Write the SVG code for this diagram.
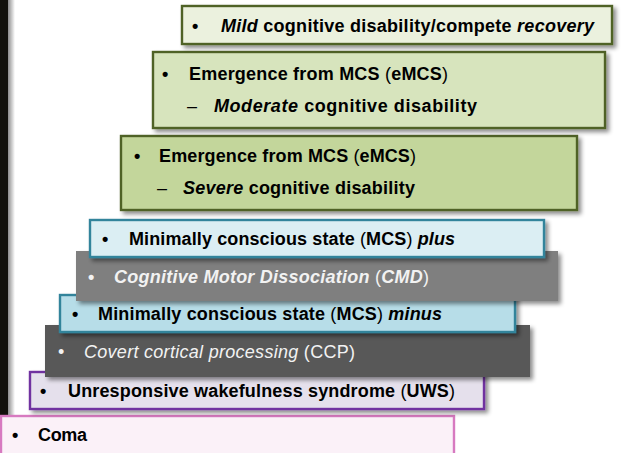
<svg xmlns="http://www.w3.org/2000/svg" width="627" height="453" viewBox="0 0 627 453">
<defs>
<filter id="sh" x="-5%" y="-20%" width="115%" height="160%">
<feDropShadow dx="3" dy="3" stdDeviation="2" flood-color="#000" flood-opacity="0.45"/>
</filter>
<linearGradient id="barsh" x1="0" x2="1" y1="0" y2="0">
<stop offset="0" stop-color="#000" stop-opacity="0.45"/>
<stop offset="1" stop-color="#000" stop-opacity="0"/>
</linearGradient>
</defs>
<style>
text{font-family:"Liberation Sans",Arial,sans-serif;font-size:18px;font-weight:bold;fill:#000}
.b{stroke-width:2.4}
.n{font-weight:normal}
.i{font-style:italic}
.w{fill:#f2f2f2}
</style>
<rect x="0" y="0" width="8" height="416" fill="#12110c"/>
<rect x="8" y="0" width="7" height="416" fill="url(#barsh)"/>
<g id="coma">
<rect x="1" y="416" width="453" height="40" fill="#fbf1f8" stroke="#d77ac0" class="b"/>
<text x="12" y="441">•</text>
<text x="38" y="441" textLength="49">Coma</text>
</g>
<g id="uws">
<rect x="30" y="372" width="454" height="37" fill="#e5e0ec" stroke="#7030a0" class="b" filter="url(#sh)"/>
<text x="40" y="397">•</text>
<text x="68" y="397" textLength="387">Unresponsive wakefulness syndrome <tspan class="n">(</tspan>UWS<tspan class="n">)</tspan></text>
</g>
<g id="ccp">
<rect x="45" y="325" width="485" height="52" fill="#595959" filter="url(#sh)"/>
<text x="58" y="358" class="w n">•</text>
<text x="84" y="358" class="w n" textLength="271"><tspan class="i">Covert cortical processing</tspan> (CCP)</text>
</g>
<g id="mcsminus">
<rect x="60" y="295" width="455" height="37" fill="#b7dde8" stroke="#31849b" class="b" filter="url(#sh)"/>
<text x="72" y="320">•</text>
<text x="98" y="320" textLength="344">Minimally conscious state <tspan class="n">(</tspan>MCS<tspan class="n">)</tspan> <tspan class="i">minus</tspan></text>
</g>
<g id="cmd">
<rect x="76" y="251" width="482" height="50" fill="#7f7f7f" filter="url(#sh)"/>
<text x="88" y="283" class="w">•</text>
<text x="114" y="283" class="w i" textLength="315">Cognitive Motor Dissociation <tspan class="n" font-style="normal">(</tspan>CMD<tspan class="n" font-style="normal">)</tspan></text>
</g>
<g id="mcsplus">
<rect x="90" y="220" width="454" height="37" fill="#dbeef3" stroke="#31849b" class="b" filter="url(#sh)"/>
<text x="102" y="245">•</text>
<text x="129" y="245" textLength="326">Minimally conscious state <tspan class="n">(</tspan>MCS<tspan class="n">)</tspan> <tspan class="i">plus</tspan></text>
</g>
<g id="severe">
<rect x="121" y="136" width="456" height="74" fill="#c3d69b" stroke="#4f6228" class="b" filter="url(#sh)"/>
<text x="134" y="162">•</text>
<text x="159" y="162" textLength="257">Emergence from MCS <tspan class="n">(</tspan>eMCS<tspan class="n">)</tspan></text>
<text x="157" y="194" class="n">–</text>
<text x="183" y="194" textLength="232"><tspan class="i">Severe</tspan> cognitive disability</text>
</g>
<g id="moderate">
<rect x="153" y="52" width="452" height="76" fill="#d7e4bd" stroke="#4f6228" class="b" filter="url(#sh)"/>
<text x="162" y="80">•</text>
<text x="189" y="80" textLength="259">Emergence from MCS <tspan class="n">(</tspan>eMCS<tspan class="n">)</tspan></text>
<text x="187" y="112" class="n">–</text>
<text x="214" y="112" textLength="263"><tspan class="i">Moderate</tspan> cognitive disability</text>
</g>
<g id="mild">
<rect x="182" y="6" width="430" height="38" fill="#ebf1de" stroke="#4f6228" class="b" filter="url(#sh)"/>
<text x="192" y="32">•</text>
<text x="221" y="32" textLength="373"><tspan class="i">Mild</tspan> cognitive disability/compete <tspan class="i">recovery</tspan></text>
</g>
<g id="connectors"/>
</svg>
